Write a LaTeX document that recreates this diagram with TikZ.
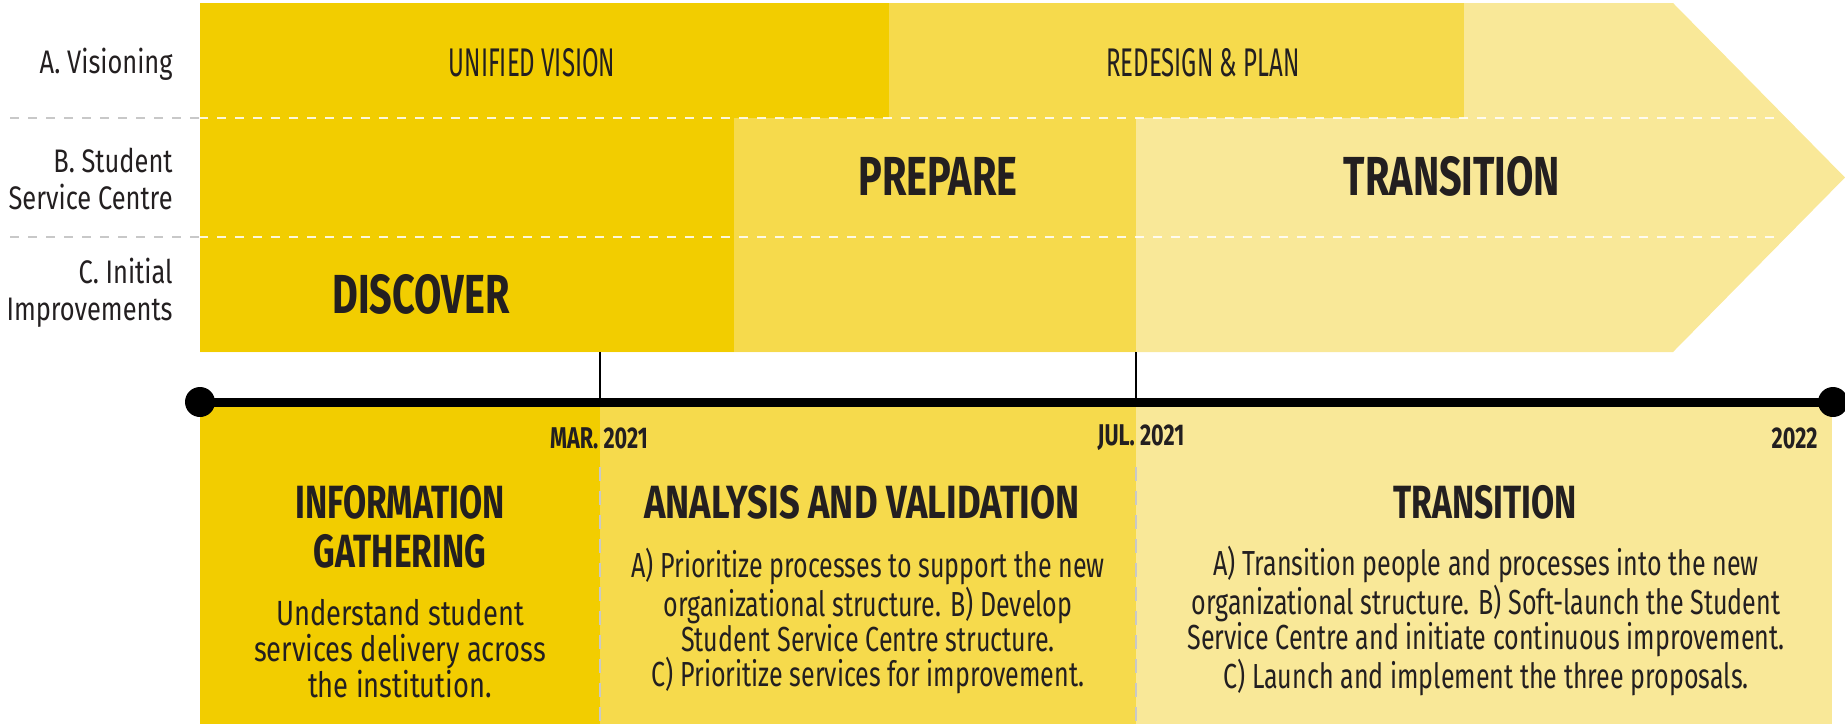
\documentclass[tikz,border=0pt]{standalone}
\usepackage{fontspec}
\setmainfont{Fira Sans}[FakeStretch=0.72]
\newfontfamily\schmal{Fira Sans}[FakeStretch=0.6]
\newfontfamily\weit{Fira Sans}[FakeStretch=0.78]
\definecolor{gelbA}{RGB}{242,205,0}
\definecolor{gelbB}{RGB}{246,218,76}
\definecolor{gelbC}{RGB}{249,232,152}
\definecolor{strichgrau}{RGB}{200,200,200}
\definecolor{schrift}{RGB}{35,31,32}
\tikzset{
  zeile/.style={anchor=east, align=right, inner sep=0pt, text=schrift, font=\weit\fontsize{16.3}{18.5}\selectfont},
  phasedunn/.style={inner sep=0pt, text=schrift, font=\schmal\fontsize{20}{22}\selectfont},
  phase/.style={inner sep=0pt, text=schrift, font=\bfseries\fontsize{27.5}{30}\selectfont},
  datum/.style={inner sep=0pt, text=schrift, font=\bfseries\fontsize{15}{18}\selectfont},
  titel/.style={inner sep=0pt, align=center, text=schrift, font=\bfseries\fontsize{23.3}{24.5}\selectfont},
  fliess/.style={inner sep=0pt, align=center, text=schrift, font=\fontsize{17.4}{17.5}\selectfont},
  trenner/.style={white, opacity=0.85, line width=1pt, dash pattern=on 4.5pt off 4.5pt},
  grautrenner/.style={strichgrau, line width=1pt, dash pattern=on 4.5pt off 4.5pt}
}
\begin{document}
\begin{tikzpicture}[x=0.5pt,y=-0.5pt]
	\useasboundingbox (0,0) rectangle (1845,724);
	\fill[gelbC] (200,3) -- (1673,3) -- (1845,177.5) -- (1673,352) -- (200,352) -- cycle;%Pfeil hell
	\fill[gelbB] (889,3) rectangle (1464,118);%Zeile A mittel
	\fill[gelbB] (734,118) rectangle (1136,352);%Zeilen B und C mittel
	\fill[gelbA] (200,3) rectangle (889,118);%Zeile A dunkel
	\fill[gelbA] (200,118) rectangle (734,352);%Zeilen B und C dunkel
	\draw[grautrenner] (10,118) -- (199,118);%Trenner A/B links
	\draw[grautrenner] (10,237) -- (199,237);%Trenner B/C links
	\draw[trenner] (199,118) -- (1782,118);%Trenner A/B
	\draw[trenner] (199,237) -- (1782,237);%Trenner B/C
	\fill[gelbA] (200,402) rectangle (600,724);%Feld 1
	\fill[gelbB] (600,402) rectangle (1136,724);%Feld 2
	\fill[gelbC] (1136,402) rectangle (1832,724);%Feld 3
	\draw[strichgrau, line width=1pt, dash pattern=on 7pt off 5pt] (600,467) -- (600,724);%Feldgrenze 1/2
	\draw[strichgrau, line width=1pt, dash pattern=on 7pt off 5pt] (1136,467) -- (1136,724);%Feldgrenze 2/3
	\coordinate (start) at (200,402);
	\coordinate (ende) at (1833,402);
	\coordinate (marz) at (600,352);
	\coordinate (juli) at (1136,352);
	\draw[line width=1pt] (marz) -- (marz |- start);%Strich Maerz
	\draw[line width=1pt] (juli) -- (juli |- start);%Strich Juli
	\draw[line width=4.5pt] (start) -- (ende);%Zeitachse
	\fill (start) circle (7.5pt);%Punkt links
	\fill (ende) circle (7.5pt);%Punkt rechts
	\node[zeile] (zeileA) at (173,64) {A. Visioning};
	\node[zeile] (zeileB) at (173,179) {B. Student\\Service Centre};
	\node[zeile] (zeileC) at (173,293) {C. Initial\\Improvements};
	\node[phasedunn] (vision) at (532,63) {UNIFIED VISION};
	\node[phasedunn] (redesign) at (1203,63) {REDESIGN \& PLAN};
	\node[phase] (prepare) at (938,176) {PREPARE};
	\node[phase] (transition) at (1452,176) {TRANSITION};
	\node[phase] (discover) at (421,294) {DISCOVER};
	\node[datum] (mar) at (599,438) {MAR. 2021};
	\node[datum] (jul) at (1141,438) {JUL. 2021};
	\node[datum, anchor=east] (jahr) at (1818,438) {2022};
	\node[titel] (info) at (400,527) {INFORMATION\\GATHERING};
	\node[titel, font=\weit\bfseries\fontsize{23.3}{24.5}\selectfont] (analyse) at (862,502) {ANALYSIS AND VALIDATION};
	\node[titel] (wechsel) at (1485,502) {TRANSITION};
	\node[fliess, font=\weit\fontsize{17.5}{18}\selectfont] (infotext) at (400,649) {Understand student\\services delivery across\\the institution.};
	\node[fliess] (analysetext) at (868,621) {A) Prioritize processes to support the new\\organizational structure. B) Develop\\Student Service Centre structure.\\C) Prioritize services for improvement.};
	\node[fliess] (wechseltext) at (1486,621) {A) Transition people and processes into the new\\organizational structure. B) Soft-launch the Student\\Service Centre and initiate continuous improvement.\\C) Launch and implement the three proposals.};
\end{tikzpicture}
\end{document}
